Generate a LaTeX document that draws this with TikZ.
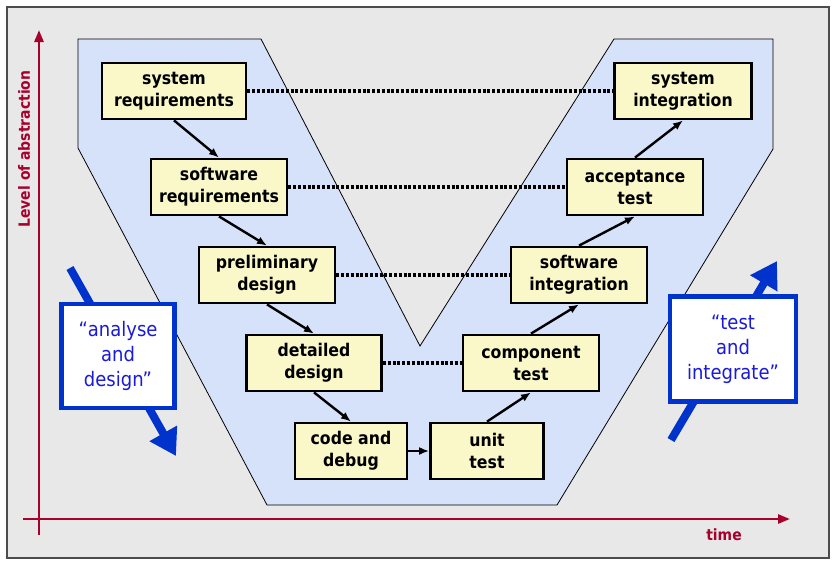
\documentclass[tikz,border=0pt]{standalone}
\usepackage{fontspec}
\usetikzlibrary{arrows.meta}
\newfontfamily\vfont[FakeStretch=0.9]{DejaVu Sans}

\definecolor{panelgray}{HTML}{E8E8E8}
\definecolor{vfill}{HTML}{D6E1FA}
\definecolor{phaseyellow}{HTML}{FAF8C8}
\definecolor{axisred}{HTML}{A8002C}
\definecolor{calloutblue}{HTML}{0033CC}
\definecolor{callouttext}{HTML}{1A1ADB}

\tikzset{
  phase/.style={draw=black, line width=2.8pt, fill=phaseyellow, align=center,
    minimum height=56pt, inner sep=2pt,
    font=\vfont\bfseries\fontsize{17.5}{22}\selectfont},
  flow/.style={line width=2.4pt, -{Latex[length=10pt,width=8pt]}},
  level/.style={line width=3.2pt, dash pattern=on 3pt off 1.8pt},
  callout/.style={draw=calloutblue, line width=4.5pt, fill=white, align=center,
    text=callouttext, font=\vfont\fontsize{20}{25}\selectfont},
  bigarrow/.style={calloutblue, line width=8pt,
    -{Triangle[length=26pt,width=30pt]}},
  axis/.style={axisred, line width=2.6pt, -{Triangle[length=12pt,width=9pt]}},
  axislabel/.style={text=axisred, font=\vfont\bfseries\fontsize{15.5}{18}\selectfont}
}

\begin{document}
\begin{tikzpicture}[x=1pt,y=-1pt]

  % Rahmen
  \useasboundingbox (0,0) rectangle (833,560);
  \fill[white] (0,0) rectangle (833,560);
  \draw[fill=panelgray, draw=black!70, line width=1.2pt] (7,7) rectangle (829,558);

  % Achsen
  \coordinate (ybot) at (39,535);
  \coordinate (ytop) at (39,30);
  \coordinate (xleft) at (23,519);
  \coordinate (xright) at (790,519);
  \draw[axis] (ybot) -- (ytop);
  \draw[axis] (xleft) -- (xright);
  \node[axislabel, rotate=90] (ylabel) at (24,149) {Level of abstraction};
  \node[axislabel] (xlabel) at (724,535) {time};

  % das V
  \draw[fill=vfill, draw=black, line width=0.8pt]
    (78,39) -- (261,39) -- (420,346) -- (614,39) -- (773,39) -- (773,149)
    -- (557,505) -- (267,505) -- (78,148) -- cycle;

  % linker Ast
  \node[phase, minimum width=144pt] (sysreq) at (174,91) {system\\requirements};
  \node[phase, minimum width=136pt] (swreq)  at (219,187) {software\\requirements};
  \node[phase, minimum width=136pt] (prelim) at (267,275) {preliminary\\design};
  \node[phase, minimum width=135pt] (detail) at (314,363) {detailed\\design};
  \node[phase, minimum width=112pt] (code)   at (351,451) {code and\\debug};

  % rechter Ast
  \node[phase, minimum width=113pt] (unit)   at (487,451) {unit\\test};
  \node[phase, minimum width=136pt] (comp)   at (531,363) {component\\test};
  \node[phase, minimum width=136pt] (swint)  at (579,275) {software\\integration};
  \node[phase, minimum width=136pt] (accept) at (635,187) {acceptance\\test};
  \node[phase, minimum width=137pt] (sysint) at (683,91)  {system\\integration};

  % Pfeile
  \draw[flow] (sysreq.south) -- (swreq.north);
  \draw[flow] (swreq.south) -- (prelim.north);
  \draw[flow] (prelim.south) -- (detail.north);
  \draw[flow] (detail.south) -- (code.north);
  \draw[flow] (code.east) -- (unit.west);
  \draw[flow] (unit.north) -- (comp.south);
  \draw[flow] (comp.north) -- (swint.south);
  \draw[flow] (swint.north) -- (accept.south);
  \draw[flow] (accept.north) -- (sysint.south);

  % gleiche Ebene
  \draw[level] (sysreq.east) -- (sysint.west);
  \draw[level] (swreq.east) -- (accept.west);
  \draw[level] (prelim.east) -- (swint.west);
  \draw[level] (detail.east) -- (comp.west);

  % blaue Pfeile
  \coordinate (downstart) at (70,268);
  \coordinate (downend) at (176,456);
  \coordinate (upstart) at (671,440);
  \coordinate (upend) at (777,261);
  \draw[bigarrow] (downstart) -- (downend);
  \draw[bigarrow] (upstart) -- (upend);
  \node[callout, minimum width=113pt, minimum height=104pt] (analyse) at (118,356)
    {“analyse\\and\\design”};
  \node[callout, minimum width=126pt, minimum height=105pt] (testint) at (733,349)
    {“test\\and\\integrate”};

\end{tikzpicture}
\end{document}
